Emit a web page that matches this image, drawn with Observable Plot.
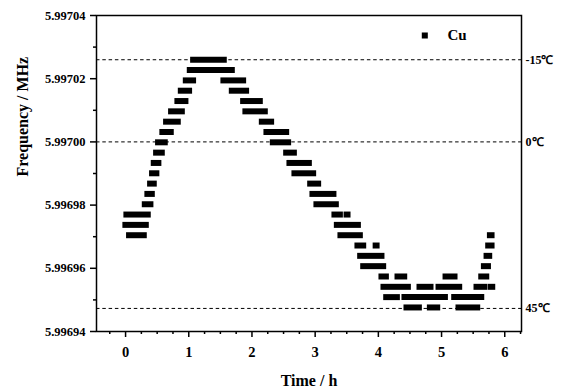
<!DOCTYPE html>
<html>
<head>
<meta charset="utf-8">
<script src="https://cdn.jsdelivr.net/npm/d3@7"></script>
<script src="https://cdn.jsdelivr.net/npm/@observablehq/plot@0.6"></script>
<style>
  html, body { margin: 0; padding: 0; background: white; }
</style>
</head>
<body>
<div id="chart"></div>
<script>
// Frequency levels (MHz) observed in the record, top to bottom
const levels = [
  5.99702599, 5.99702273, 5.99701946, 5.99701620, 5.99701293,
  5.99700967, 5.99700640, 5.99700313, 5.99699987, 5.99699660,
  5.99699334, 5.99699007, 5.99698680, 5.99698354, 5.99698027,
  5.99697701, 5.99697374, 5.99697047, 5.99696721, 5.99696394,
  5.99696068, 5.99695741, 5.99695414, 5.99695088, 5.99694761
];

// Runs of consecutive Cu samples: [level index, first time (h), last time (h)]
const runs = [
  [0, 1.077, 1.562],
  [1, 1.024, 1.689],
  [2, 0.961, 1.076], [2, 1.556, 1.868],
  [3, 0.882, 1.013], [3, 1.689, 1.915],
  [4, 0.828, 0.955], [4, 1.868, 2.132],
  [5, 0.728, 0.898], [5, 1.904, 2.211],
  [6, 0.649, 0.834], [6, 2.164, 2.311],
  [7, 0.590, 0.723], [7, 2.237, 2.549],
  [8, 0.522, 0.628], [8, 2.338, 2.580],
  [9, 0.491, 0.581], [9, 2.549, 2.671],
  [10, 0.454, 0.527], [10, 2.601, 2.908],
  [11, 0.427, 0.495], [11, 2.680, 2.976],
  [12, 0.396, 0.454], [12, 2.929, 3.055],
  [13, 0.353, 0.423], [13, 2.965, 3.297],
  [14, 0.312, 0.401], [14, 3.028, 3.335],
  [15, 0.021, 0.359], [15, 3.313, 3.399], [15, 3.505, 3.520],
  [16, 0.005, 0.328], [16, 3.351, 3.684],
  [17, 0.063, 0.296], [17, 3.408, 3.715], [17, 5.773, 5.799],
  [18, 3.677, 3.768], [18, 3.965, 3.980], [18, 5.746, 5.799],
  [19, 3.720, 4.057], [19, 5.720, 5.762],
  [20, 3.768, 4.084], [20, 5.678, 5.742],
  [21, 4.057, 4.127], [21, 4.311, 4.417], [21, 5.071, 5.213], [21, 5.636, 5.715],
  [22, 4.089, 4.475], [22, 4.659, 4.833], [22, 4.960, 5.287], [22, 5.561, 5.688], [22, 5.790, 5.810],
  [23, 4.132, 4.301], [23, 4.421, 5.061], [23, 5.208, 5.636],
  [24, 4.453, 4.649], [24, 4.823, 4.939], [24, 5.276, 5.572]
];

// Reference temperature lines
const refFreq = [5.9970260, 5.99700, 5.9969473];
const refLabels = ["-15\u2103", "0\u2103", "45\u2103"];

// Axis ticks
const xTicks = [0, 1, 2, 3, 4, 5, 6];
const xMinor = [-0.25, 0.25, 0.5, 0.75, 1.25, 1.5, 1.75, 2.25, 2.5, 2.75, 3.25, 3.5, 3.75, 4.25, 4.5, 4.75, 5.25, 5.5, 5.75, 6.25];
const yTicks = [5.99694, 5.99696, 5.99698, 5.99700, 5.99702, 5.99704];
const yMinor = [5.99695, 5.99697, 5.99699, 5.99701, 5.99703];

const seriesName = "Cu";
const xTitle = "Time / h";
const yTitle = "Frequency / MHz";

const runData = runs.map(([k, t0, t1]) => ({f: levels[k], t0, t1}));
const refData = refFreq.map((f, i) => ({f, label: refLabels[i]}));

const chart = Plot.plot({
  width: 562,
  height: 389,
  marginLeft: 96,
  marginRight: 41,
  marginTop: 15,
  marginBottom: 58,
  x: {domain: [-0.46, 6.265]},
  y: {domain: [5.99694, 5.99704]},
  style: {
    fontFamily: "'Liberation Serif', 'Times New Roman', serif",
    fontWeight: "bold",
    fontSize: "13px",
    background: "white",
    color: "black"
  },
  marks: [
    Plot.ruleY(refData, {y: "f", stroke: "black", strokeWidth: 1, strokeDasharray: "3.5,2.8"}),
    Plot.ruleY(runData, {y: "f", x1: "t0", x2: "t1", stroke: "black", strokeWidth: 6, strokeLinecap: "square"}),
    Plot.frame({stroke: "black", strokeWidth: 1.5}),
    Plot.axisY(yTicks, {tickSize: 6, tickPadding: 5, strokeWidth: 1.5, fontSize: 12.5, tickFormat: d => d.toFixed(5), label: null}),
    Plot.axisY(yMinor, {tickSize: 3, strokeWidth: 1.5, tickFormat: () => "", label: null}),
    Plot.axisX(xTicks, {tickSize: 6, tickPadding: 9, strokeWidth: 1.5, fontSize: 14.5, label: null}),
    Plot.axisX(xMinor, {tickSize: 3, strokeWidth: 1.5, tickFormat: () => "", label: null}),
    Plot.text(refData, {y: "f", text: "label", frameAnchor: "right", textAnchor: "start", dx: 4, fontSize: 12}),
    Plot.dot([seriesName], {frameAnchor: "top-right", dx: -96.7, dy: 20, symbol: "square", r: 3.4, fill: "black", stroke: "none"}),
    Plot.text([seriesName], {frameAnchor: "top-right", dx: -74, dy: 20, textAnchor: "start", lineAnchor: "middle", fontSize: 15, text: d => d}),
    Plot.text([xTitle], {frameAnchor: "bottom", dy: 49, lineAnchor: "middle", fontSize: 16, text: d => d}),
    Plot.text([yTitle], {frameAnchor: "left", dx: -74, dy: 3, rotate: -90, lineAnchor: "middle", fontSize: 16, text: d => d})
  ]
});

document.getElementById("chart").appendChild(chart);
</script>
</body>
</html>
